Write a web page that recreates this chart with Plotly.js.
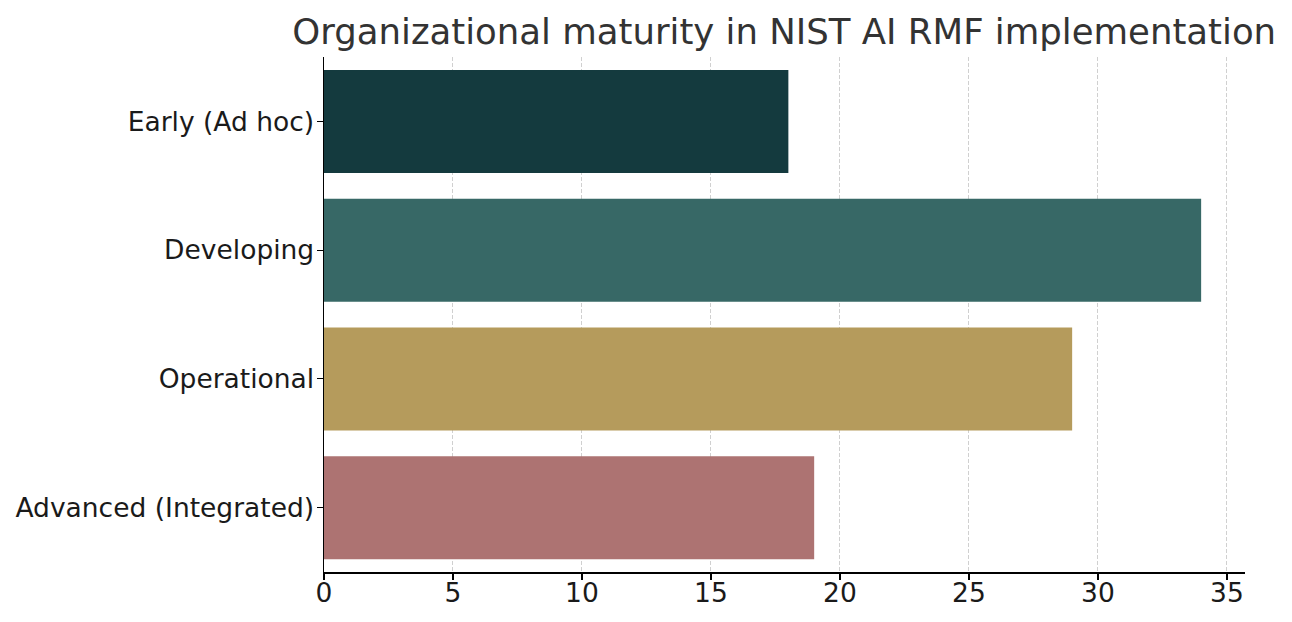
<!DOCTYPE html>
<html>
<head>
<meta charset="utf-8">
<script src="https://cdn.plot.ly/plotly-3.0.1.min.js"></script>
<style>html,body{margin:0;padding:0;background:#fff;}#chart{width:1292px;height:622px;}</style>
</head>
<body>
<div id="chart"></div>
<script>
const categories = ["Early (Ad hoc)", "Developing", "Operational", "Advanced (Integrated)"];
const values = [18, 34, 29, 19];
const colors = ["#143a3e", "#376866", "#b59b5c", "#ad7372"];
const xTicks = [0, 5, 10, 15, 20, 25, 30, 35];
const titleText = "Organizational maturity in NIST AI RMF implementation";

const trace = {
  type: "bar",
  orientation: "h",
  y: categories,
  x: values,
  marker: {color: colors, line: {width: 0}},
  width: 0.8,
  hoverinfo: "x+y"
};

const layout = {
  width: 1292, height: 622,
  margin: {l: 324, r: 47, t: 57, b: 50, pad: 0},
  paper_bgcolor: "#fff", plot_bgcolor: "#fff",
  font: {family: "DejaVu Sans", color: "#1a1a1a"},
  title: {text: titleText, font: {family: "DejaVu Sans", size: 35.5, color: "#333"},
          x: 0.607, xanchor: "center", y: 0.95, yanchor: "middle"},
  showlegend: false,
  bargap: 0.2,
  xaxis: {
    range: [0, 35.7], tickvals: xTicks, ticktext: xTicks.map(String),
    showgrid: true, gridcolor: "rgba(200,200,200,0.85)", griddash: "4px,2px", gridwidth: 1,
    showline: true, linecolor: "#000", linewidth: 1.5,
    ticks: "outside", ticklen: 6, tickcolor: "#000", tickwidth: 1.2,
    tickfont: {size: 26.5, color: "#1a1a1a"}, ticklabelstandoff: -9,
    zeroline: false, layer: "above traces", fixedrange: true
  },
  yaxis: {
    autorange: false, range: [3.5, -0.5], type: "category",
    showgrid: false,
    showline: true, linecolor: "#000", linewidth: 1.5,
    ticks: "outside", ticklen: 6, tickcolor: "#000", tickwidth: 1.2,
    tickfont: {size: 26.5, color: "#1a1a1a"}, ticklabelstandoff: -3,
    zeroline: false, layer: "above traces", fixedrange: true
  }
};

Plotly.newPlot("chart", [trace], layout, {displayModeBar: false, staticPlot: true});
</script>
</body>
</html>
